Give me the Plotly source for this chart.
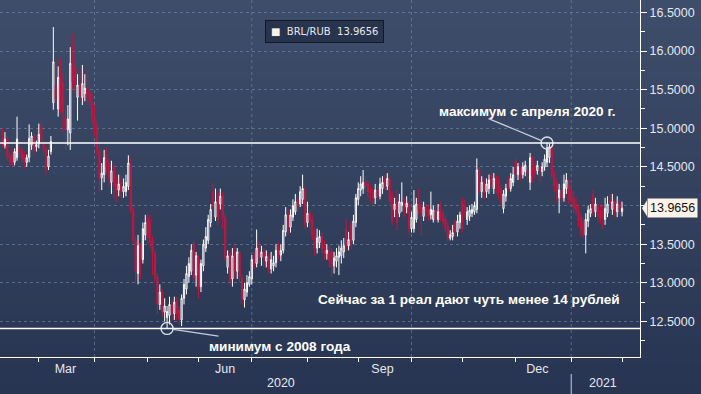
import pandas as pd
import plotly.graph_objects as go

SERIES_NAME = "BRL/RUB"

# Trading days (weekdays) from 7 Feb 2020 to 1 Feb 2021
dates = pd.bdate_range("2020-02-07", "2021-02-01")

opens = [
    # Feb 2020
    14.87, 14.78, 14.87, 14.64, 14.66, 14.56, 14.62, 14.76, 14.70, 14.66, 14.56, 14.62, 14.78, 14.88, 14.76, 14.80,
    # Mar
    15.02, 14.80, 14.72, 14.50, 14.70, 15.33, 15.55, 15.25, 15.66, 15.60, 15.15, 14.98, 14.94, 15.86, 15.80, 15.40,
    15.55, 15.40, 15.45, 15.52, 15.48, 15.33,
    # Apr
    15.15, 15.02, 14.72, 14.36, 14.40, 14.66, 14.55, 14.30, 14.50, 14.32, 14.20, 14.30, 14.18, 14.18, 14.25, 14.52,
    13.95, 13.55, 13.12, 13.45, 13.30, 13.62,
    # May
    13.85, 13.80, 13.55, 13.38, 13.08, 12.72, 12.88, 12.62, 12.55, 12.58, 12.72, 12.60, 12.76, 12.65, 12.52, 12.80,
    12.92, 13.08, 13.15, 13.50, 13.10,
    # Jun
    13.32, 12.95, 13.22, 13.45, 13.55, 13.78, 14.18, 13.85, 14.15, 14.02, 14.12, 13.85, 13.20, 13.38, 13.05, 13.40,
    13.15, 13.38, 13.05, 12.78, 12.88, 12.98,
    # Jul
    13.05, 13.32, 13.25, 13.47, 13.33, 13.40, 13.28, 13.32, 13.18, 13.22, 13.26, 13.47, 13.36, 13.42, 13.66, 13.90,
    13.72, 13.85, 13.92, 14.08, 14.02, 14.08, 14.20,
    # Aug
    13.78, 13.90, 13.82, 13.62, 13.45, 13.52, 13.60, 13.48, 13.38, 13.42, 13.40, 13.22, 13.28, 13.33, 13.35, 13.40,
    13.70, 13.48, 13.75, 13.55, 13.78,
    # Sep
    14.08, 14.20, 14.22, 14.31, 14.28, 14.22, 14.18, 14.10, 14.20, 14.12, 14.22, 14.34, 14.25, 14.35, 14.14, 13.95,
    14.05, 13.90, 14.00, 14.04, 13.98, 14.02,
    # Oct
    13.70, 13.70, 13.82, 14.02, 14.00, 13.86, 13.98, 13.95, 13.88, 13.82, 13.94, 13.82, 13.92, 13.90, 13.83, 13.73,
    13.58, 13.60, 13.78, 13.66, 13.78, 14.05,
    # Nov
    14.00, 13.82, 13.86, 13.90, 13.92, 13.95, 14.46, 14.18, 14.30, 14.18, 14.22, 14.40, 14.22, 14.36, 14.33, 14.22,
    13.96, 14.12, 14.33, 14.22, 14.30,
    # Dec
    14.58, 14.40, 14.48, 14.40, 14.44, 14.46, 14.30, 14.60, 14.50, 14.45, 14.48, 14.44, 14.50, 14.56, 14.62, 14.76,
    14.40, 14.30, 14.10, 14.20, 14.10, 14.22, 14.28,
    # Jan 2021 + 1 Feb
    14.20, 14.10, 14.02, 13.94, 13.85, 13.80, 13.62, 13.80, 13.90, 14.14, 13.92, 14.00, 13.94, 13.94, 13.82, 13.90,
    14.07, 13.95, 14.05, 13.92, 14.04, 13.92,
]

highs = [
    15.00, 14.95, 14.90, 14.70, 14.72, 14.74, 15.15, 14.82, 14.74, 14.70, 14.66, 15.05, 14.95, 14.92, 14.84, 15.06,
    15.12, 14.86, 14.76, 14.72, 14.90, 16.31, 15.93, 15.80, 15.90, 15.72, 15.24, 15.30, 16.05, 16.23, 16.10, 15.70,
    15.75, 15.82, 15.70, 15.75, 15.62, 15.45,
    15.30, 15.10, 14.80, 14.55, 14.72, 14.75, 14.60, 14.58, 14.56, 14.40, 14.40, 14.38, 14.35, 14.40, 14.65, 14.62,
    14.00, 13.60, 13.62, 13.52, 13.78, 13.88,
    13.90, 13.88, 13.60, 13.42, 13.12, 12.98, 12.92, 12.80, 12.70, 12.82, 12.78, 12.82, 12.82, 12.70, 12.85, 13.05,
    13.22, 13.33, 13.50, 13.55, 13.40,
    13.36, 13.30, 13.56, 13.72, 13.88, 14.02, 14.30, 14.22, 14.20, 14.22, 14.18, 13.90, 13.42, 13.42, 13.45, 13.48,
    13.45, 13.42, 13.10, 13.00, 13.10, 13.15,
    13.36, 13.40, 13.69, 13.55, 13.48, 13.45, 13.42, 13.38, 13.40, 13.35, 13.50, 13.52, 13.50, 13.75, 13.98, 13.95,
    13.95, 14.08, 14.15, 14.12, 14.25, 14.40, 14.25,
    14.05, 13.95, 13.88, 13.70, 13.70, 13.68, 13.65, 13.55, 13.50, 13.48, 13.45, 13.40, 13.45, 13.48, 13.55, 13.58,
    13.82, 13.66, 13.80, 13.88, 14.15,
    14.30, 14.38, 14.46, 14.38, 14.32, 14.26, 14.22, 14.28, 14.26, 14.36, 14.38, 14.40, 14.42, 14.40, 14.18, 14.10,
    14.20, 14.15, 14.30, 14.10, 14.12, 14.06,
    13.92, 14.20, 14.10, 14.22, 14.06, 14.05, 14.02, 14.00, 14.18, 14.00, 14.00, 14.02, 14.05, 13.95, 13.88, 13.78,
    13.68, 13.75, 13.82, 13.88, 13.92, 14.10,
    14.08, 13.98, 14.00, 14.02, 14.05, 14.61, 14.50, 14.38, 14.36, 14.35, 14.40, 14.45, 14.42, 14.40, 14.38, 14.26,
    14.20, 14.28, 14.38, 14.42, 14.50,
    14.62, 14.55, 14.52, 14.56, 14.58, 14.50, 14.68, 14.64, 14.56, 14.58, 14.52, 14.56, 14.66, 14.81, 14.80, 14.78,
    14.45, 14.35, 14.28, 14.38, 14.40, 14.42, 14.35,
    14.28, 14.18, 14.10, 14.00, 13.90, 13.85, 13.90, 14.00, 14.02, 14.20, 14.10, 14.06, 14.00, 14.00, 14.10, 14.12,
    14.15, 14.15, 14.08, 14.12, 14.08, 14.05,
]

lows = [
    14.76, 14.74, 14.58, 14.52, 14.50, 14.52, 14.58, 14.62, 14.56, 14.48, 14.50, 14.56, 14.72, 14.66, 14.70, 14.74,
    14.82, 14.64, 14.40, 14.46, 14.66, 15.24, 15.30, 15.15, 15.20, 14.95, 14.72, 14.78, 14.72, 15.50, 15.45, 15.10,
    15.35, 15.30, 15.35, 15.30, 15.25, 15.05,
    14.90, 14.65, 14.18, 14.20, 14.30, 14.42, 14.25, 14.15, 14.10, 14.05, 14.12, 14.10, 14.10, 14.12, 14.20, 13.90,
    13.50, 13.00, 12.98, 13.05, 13.25, 13.55,
    13.50, 13.45, 13.10, 13.00, 12.60, 12.65, 12.56, 12.50, 12.41, 12.46, 12.50, 12.52, 12.52, 12.46, 12.44, 12.72,
    12.85, 13.00, 13.10, 13.00, 12.95,
    12.80, 12.88, 13.15, 13.40, 13.50, 13.72, 13.95, 13.80, 13.75, 13.95, 13.70, 13.28, 13.12, 12.98, 12.95, 13.05,
    13.05, 13.00, 12.72, 12.68, 12.82, 12.95,
    12.98, 13.18, 13.20, 13.25, 13.22, 13.20, 13.20, 13.12, 13.12, 13.15, 13.20, 13.30, 13.28, 13.38, 13.60, 13.62,
    13.65, 13.80, 13.88, 13.92, 13.98, 14.02, 13.70,
    13.72, 13.70, 13.55, 13.35, 13.38, 13.45, 13.38, 13.30, 13.30, 13.20, 13.08, 13.12, 13.20, 13.10, 13.25, 13.32,
    13.42, 13.42, 13.45, 13.50, 13.72,
    14.00, 14.12, 14.15, 14.18, 14.10, 14.05, 14.02, 14.02, 14.05, 14.08, 14.15, 14.20, 14.20, 14.00, 13.75, 13.85,
    13.68, 13.85, 13.92, 13.85, 13.90, 13.62,
    13.65, 13.65, 13.78, 13.88, 13.60, 13.80, 13.85, 13.80, 13.82, 13.78, 13.78, 13.78, 13.80, 13.75, 13.65, 13.53,
    13.55, 13.55, 13.60, 13.60, 13.70, 13.65,
    13.85, 13.75, 13.80, 13.85, 13.88, 13.90, 14.12, 14.10, 14.08, 14.10, 14.15, 14.18, 14.15, 14.16, 14.10, 14.00,
    13.90, 14.05, 14.18, 14.18, 14.25,
    14.35, 14.33, 14.32, 14.35, 14.38, 14.30, 14.20, 14.30, 14.35, 14.40, 14.30, 14.38, 14.45, 14.50, 14.55, 14.35,
    14.18, 14.05, 13.90, 14.02, 14.05, 14.15, 14.02,
    14.00, 13.90, 13.88, 13.72, 13.60, 13.58, 13.38, 13.72, 13.85, 13.86, 13.85, 13.78, 13.76, 13.70, 13.75, 13.85,
    13.95, 13.88, 13.85, 13.85, 13.88, 13.86,
]

closes = [
    14.83, 14.86, 14.63, 14.56, 14.53, 14.70, 14.86, 14.68, 14.60, 14.56, 14.62, 14.87, 14.90, 14.73, 14.79, 14.92,
    14.85, 14.72, 14.48, 14.64, 14.83, 15.86, 15.37, 15.66, 15.22, 15.20, 14.98, 15.12, 15.84, 15.60, 15.55, 15.56,
    15.42, 15.58, 15.52, 15.40, 15.33, 15.15,
    14.98, 14.72, 14.35, 14.42, 14.62, 14.50, 14.35, 14.45, 14.25, 14.20, 14.28, 14.18, 14.25, 14.30, 14.55, 13.95,
    13.55, 13.15, 13.48, 13.25, 13.70, 13.78,
    13.58, 13.52, 13.38, 13.06, 12.72, 12.88, 12.62, 12.70, 12.63, 12.72, 12.60, 12.75, 12.60, 12.53, 12.80, 12.98,
    13.12, 13.25, 13.42, 13.06, 13.35,
    12.92, 13.25, 13.50, 13.60, 13.82, 13.95, 14.02, 14.05, 13.82, 14.12, 13.85, 13.32, 13.35, 13.02, 13.35, 13.15,
    13.40, 13.08, 12.80, 12.92, 13.00, 13.08,
    13.30, 13.25, 13.45, 13.33, 13.40, 13.32, 13.34, 13.18, 13.30, 13.26, 13.42, 13.38, 13.42, 13.68, 13.88, 13.71,
    13.88, 14.00, 14.05, 14.00, 14.18, 14.22, 13.75,
    13.90, 13.80, 13.62, 13.45, 13.58, 13.60, 13.45, 13.38, 13.42, 13.28, 13.20, 13.32, 13.35, 13.40, 13.45, 13.48,
    13.48, 13.56, 13.52, 13.80, 14.10,
    14.22, 14.28, 14.30, 14.25, 14.18, 14.16, 14.10, 14.20, 14.12, 14.28, 14.30, 14.30, 14.35, 14.05, 13.80, 14.02,
    13.78, 14.05, 14.04, 13.95, 14.03, 13.70,
    13.85, 14.00, 14.02, 13.95, 13.90, 13.98, 13.92, 13.86, 13.95, 13.94, 13.82, 13.92, 13.84, 13.80, 13.70, 13.58,
    13.62, 13.65, 13.66, 13.80, 13.88, 13.70,
    13.94, 13.92, 13.94, 13.95, 14.00, 14.46, 14.18, 14.30, 14.16, 14.28, 14.33, 14.24, 14.35, 14.25, 14.16, 14.05,
    14.15, 14.22, 14.24, 14.35, 14.40,
    14.40, 14.50, 14.40, 14.50, 14.52, 14.40, 14.62, 14.38, 14.42, 14.52, 14.44, 14.50, 14.60, 14.75, 14.76, 14.40,
    14.25, 14.18, 14.20, 14.08, 14.28, 14.33, 14.08,
    14.05, 13.96, 13.94, 13.80, 13.68, 13.62, 13.82, 13.94, 13.96, 13.92, 14.02, 13.86, 13.82, 13.84, 13.96, 14.02,
    14.03, 14.05, 13.92, 14.02, 13.94, 13.9656,
]

month_label_dates = ["2020-03-16", "2020-06-16", "2020-09-15", "2020-12-14"]
month_labels = ["Mar", "Jun", "Sep", "Dec"]
quarter_starts = ["2020-04-01", "2020-07-01", "2020-10-01", "2021-01-01"]
year_label_dates = ["2020-07-17", "2021-01-20"]
year_labels = ["2020", "2021"]
y_ticks = [12.5, 13.0, 13.5, 14.0, 14.5, 15.0, 15.5, 16.0, 16.5]
MAX_WINDOW_START = "2020-05-01"

TEXT_MAX = "максимум с апреля 2020 г."
TEXT_MIN = "минимум с 2008 года"
TEXT_NOW = "Сейчас за 1 реал дают чуть менее 14 рублей"

assert len(opens) == len(highs) == len(lows) == len(closes) == len(dates)

# ---- figure geometry ----
W, H = 701, 394
M_L, M_R, M_T, M_B = 0, 61, 0, 37
PW, PH = W - M_L - M_R, H - M_T - M_B

AXIS_FONT = "Liberation Sans, Arial, sans-serif"
TEXT_FONT = "Liberation Sans, Arial, sans-serif"
TICK_COLOR = "#e4e8ef"
GRID_COLOR = "rgba(125,145,175,0.55)"

last = closes[-1]
# the last-value tag replaces the tick label that it covers
y_ticktext = [f"{v:.4f}" if abs(v - last) > 0.15 else "" for v in y_ticks]

fig = go.Figure()

fig.add_trace(go.Candlestick(
    x=dates, open=opens, high=highs, low=lows, close=closes,
    name=SERIES_NAME,
    increasing=dict(line=dict(color="#ffffff", width=1), fillcolor="rgba(0,0,0,0)"),
    decreasing=dict(line=dict(color="#bb1841", width=1), fillcolor="#bb1841"),
    whiskerwidth=0, showlegend=False, hoverinfo="skip",
))

# extreme points
win_start = pd.Timestamp(MAX_WINDOW_START)
hi_idx = max((k for k in range(len(dates)) if dates[k] >= win_start), key=lambda k: highs[k])
lo_idx = min(range(len(dates)), key=lambda k: lows[k])
hi_val, lo_val = highs[hi_idx], lows[lo_idx]

fig.add_trace(go.Scatter(
    x=[dates[hi_idx], dates[lo_idx]], y=[hi_val, lo_val], mode="markers",
    marker=dict(symbol="circle-open", size=12, color="#d9dee8", line=dict(width=1.4)),
    showlegend=False, hoverinfo="skip",
))

shapes = []
# gradient background stripes
n = 40
top_rgb = (62, 77, 105)
bot_rgb = (40, 53, 82)
y_lo_paper = -M_B / PH
x_hi_paper = (PW + M_R) / PW
for s in range(n):
    t = s / (n - 1)
    c = tuple(round(top_rgb[j] + (bot_rgb[j] - top_rgb[j]) * t) for j in range(3))
    y1 = 1 - (1 - y_lo_paper) * s / n
    y0 = 1 - (1 - y_lo_paper) * (s + 1) / n
    shapes.append(dict(type="rect", xref="paper", yref="paper", x0=0, x1=x_hi_paper,
                       y0=y0 - 0.002, y1=y1, fillcolor="rgb(%d,%d,%d)" % c,
                       line=dict(width=0), layer="below"))
# vertical quarter gridlines
for q in quarter_starts:
    shapes.append(dict(type="line", xref="x", yref="paper", x0=q, x1=q, y0=0, y1=1,
                       line=dict(color=GRID_COLOR, width=1, dash="3px,3px"), layer="below"))
# horizontal max / min lines
for v in (hi_val, lo_val):
    shapes.append(dict(type="line", xref="paper", yref="y", x0=0, x1=1, y0=v, y1=v,
                       line=dict(color="#ffffff", width=1.5)))
# year separator
shapes.append(dict(type="line", xref="x", yref="paper", x0=quarter_starts[-1], x1=quarter_starts[-1],
                   y0=-17 / PH, y1=-M_B / PH, line=dict(color="#c9cfda", width=1)))
# pointer of the last-value tag
d = 8 / 77.25
shapes.append(dict(type="path", xref="paper", yref="y",
                   path=f"M {1 + 2 / PW},{last} L {1 + 7 / PW},{last + d} L {1 + 7 / PW},{last - d} Z",
                   fillcolor="#fdf3e8", line=dict(width=0)))

annotations = [
    # legend box
    dict(xref="paper", yref="paper", x=(268 + 381) / 2 / PW, y=1 - 20 / PH, showarrow=False,
         text=f"<span style='color:#fdf1e7'>■</span>  {SERIES_NAME}  {last:.4f}",
         font=dict(family="DejaVu Sans, sans-serif", size=10, color="#e6e9ef"),
         bgcolor="#28334e", bordercolor="#121826", borderwidth=1, borderpad=5),
    # last value tag
    dict(xref="paper", yref="y", x=1 + 7 / PW, y=last, xanchor="left", showarrow=False,
         text=f"{last:.4f}", font=dict(family=AXIS_FONT, size=12.5, color="#111111"),
         bgcolor="#fdf3e8", borderpad=2),
    # max text + leader
    dict(x=dates[hi_idx], y=hi_val, xref="x", yref="y", text=f"<b>{TEXT_MAX}</b>", showarrow=False,
         xshift=-20, yshift=31, font=dict(family=TEXT_FONT, size=13.6, color="#ffffff")),
    dict(x=dates[hi_idx], y=hi_val, xref="x", yref="y", text="", showarrow=True, arrowhead=0,
         ax=-60, ay=-25, standoff=6, arrowwidth=1.2, arrowcolor="#c5cddc"),
    # min text + leader
    dict(x=dates[lo_idx], y=lo_val, xref="x", yref="y", text=f"<b>{TEXT_MIN}</b>", showarrow=False,
         xanchor="left", xshift=40, yshift=-18, font=dict(family=TEXT_FONT, size=13.6, color="#ffffff")),
    dict(x=dates[lo_idx], y=lo_val, xref="x", yref="y", text="", showarrow=True, arrowhead=0,
         ax=53, ay=8, standoff=6, arrowwidth=1.2, arrowcolor="#c5cddc"),
    # current note
    dict(x=dates[-1], y=12.78, xref="x", yref="y", text=f"<b>{TEXT_NOW}</b>", showarrow=False,
         xanchor="right", font=dict(family=TEXT_FONT, size=13.6, color="#ffffff")),
]
for xd, lab in zip(year_label_dates, year_labels):
    annotations.append(dict(x=xd, y=-26 / PH, xref="x", yref="paper", text=lab, showarrow=False,
                            yanchor="middle", font=dict(family=AXIS_FONT, size=12.5, color=TICK_COLOR)))

fig.update_layout(
    width=W, height=H,
    margin=dict(l=M_L, r=M_R, t=M_T, b=M_B, autoexpand=False),
    paper_bgcolor="rgb(44,57,86)",
    plot_bgcolor="rgba(0,0,0,0)",
    shapes=shapes,
    annotations=annotations,
    showlegend=False,
    xaxis=dict(
        type="date",
        range=["2020-02-05 23:00", "2021-02-10 10:00"],
        rangebreaks=[dict(bounds=["sat", "mon"])],
        rangeslider=dict(visible=False),
        showgrid=False, zeroline=False,
        showline=True, linecolor="#ffffff", linewidth=1,
        tickmode="array", tickvals=month_label_dates, ticktext=month_labels, ticks="",
        tickfont=dict(family=AXIS_FONT, size=12.5, color=TICK_COLOR),
        minor=dict(ticks="outside", ticklen=4, tickcolor="#ffffff", dtick="M1",
                   tick0="2020-01-01", showgrid=False),
        automargin=False,
        fixedrange=True,
    ),
    yaxis=dict(
        side="right",
        range=[12.04, 16.66],
        tickmode="array", tickvals=y_ticks, ticktext=y_ticktext,
        showgrid=True, gridcolor=GRID_COLOR, griddash="3px,3px", gridwidth=1,
        zeroline=False,
        showline=True, linecolor="#ffffff", linewidth=1,
        ticks="outside", ticklen=6, tickcolor="#ffffff",
        minor=dict(ticks="outside", ticklen=4, tickcolor="#ffffff", dtick=0.25, tick0=12.0,
                   showgrid=False),
        tickfont=dict(family=AXIS_FONT, size=12.5, color=TICK_COLOR),
        automargin=False,
        fixedrange=True,
    ),
)

fig.write_html(
    "out.html",
    config={"displayModeBar": False},
    post_script="document.body.style.margin='0';document.body.style.overflow='hidden';",
)
